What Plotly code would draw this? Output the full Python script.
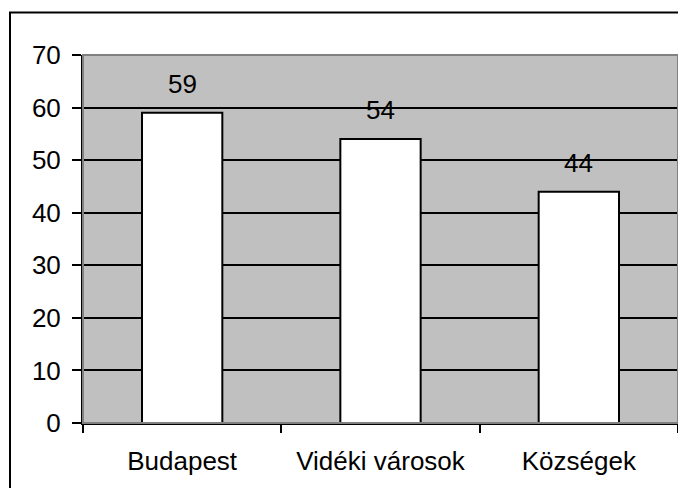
import plotly.graph_objects as go

categories = ["Budapest", "Vidéki városok", "Községek"]
values = [59, 54, 44]
y_ticks = [0, 10, 20, 30, 40, 50, 60, 70]

FONT = "Liberation Sans, Arial, sans-serif"
FS = 26

fig = go.Figure()
fig.add_trace(go.Bar(
    x=categories, y=values,
    marker=dict(color="white", line=dict(color="black", width=2)),
    width=0.405,
    hoverinfo="skip",
))

for c, v in zip(categories, values):
    fig.add_annotation(x=c, y=v, text=str(v), showarrow=False,
                       yanchor="bottom", yshift=12,
                       font=dict(family=FONT, size=FS, color="black"))

# page body has an 8px margin, so figure coords = reference coords - 8
OFF = 8
W, H = 686 - OFF, 496 - 2 * OFF
L, T = 83 - OFF, 55 - OFF
R = W - (678 - OFF)
B = H - (423 - OFF)
pw, ph = W - L - R, H - T - B

# outer chart border (cropped at right/bottom)
fig.add_shape(type="rect", xref="paper", yref="paper",
              x0=(10 - OFF - L) / pw, x1=(W + 20 - L) / pw,
              y0=-(B + 30) / ph, y1=1 + (T - (12.5 - OFF)) / ph,
              line=dict(color="black", width=2), fillcolor="rgba(0,0,0,0)")
# plot-area border (gray)
fig.add_shape(type="rect", xref="paper", yref="paper",
              x0=0, x1=1, y0=0, y1=1,
              line=dict(color="#808080", width=2), fillcolor="rgba(0,0,0,0)")

fig.update_layout(
    width=W, height=H,
    margin=dict(l=L, r=R, t=T, b=B, pad=0),
    paper_bgcolor="white", plot_bgcolor="#C0C0C0",
    showlegend=False,
    font=dict(family=FONT, size=FS, color="black"),
)
fig.update_xaxes(
    type="category", tickson="boundaries",
    ticks="outside", ticklen=8, tickwidth=2, tickcolor="black",
    showline=True, linecolor="black", linewidth=2,
    showgrid=False, ticklabelstandoff=14,
    tickfont=dict(family=FONT, size=FS, color="black"),
)
fig.update_yaxes(
    range=[0, 70], tickvals=y_ticks,
    ticks="outside", ticklen=9, tickwidth=2, tickcolor="black",
    showline=True, linecolor="black", linewidth=2,
    showgrid=True, gridcolor="black", gridwidth=1.5,
    zeroline=False, ticklabelstandoff=6,
    tickfont=dict(family=FONT, size=FS, color="black"),
)

fig.write_html("out.html")
